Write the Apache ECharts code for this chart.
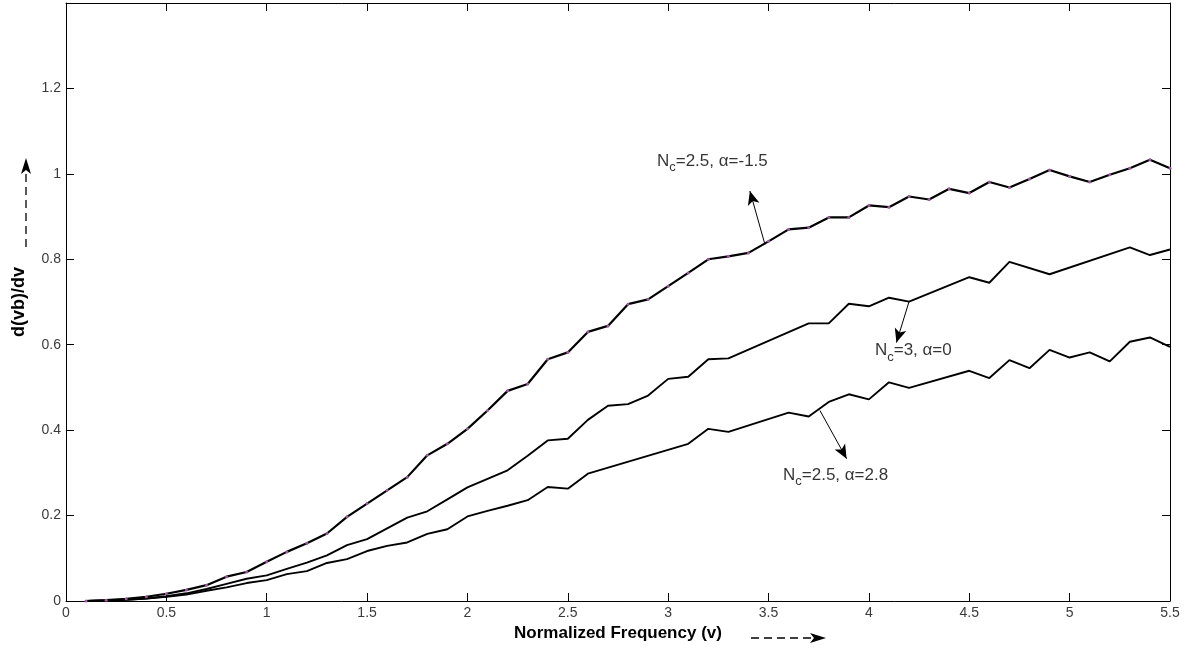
<!DOCTYPE html>
<html><head><meta charset="utf-8">
<script src="https://cdn.jsdelivr.net/npm/echarts@6/dist/echarts.min.js"></script>
<style>html,body{margin:0;padding:0;background:#fff}#c{width:1187px;height:650px}</style>
</head><body><div id="c"></div>
<script>
// Nc=2.5, alpha=-1.5 (sampled every 0.1 from 0.1 to 5.5)
const vTop = [0.1,0.2,0.3,0.4,0.5,0.6,0.7,0.8,0.9,1.0,1.1,1.2,1.3,1.4,1.5,1.6,1.7,1.8,1.9,2.0,2.1,2.2,2.3,2.4,2.5,2.6,2.7,2.8,2.9,3.0,3.1,3.2,3.3,3.4,3.5,3.6,3.7,3.8,3.9,4.0,4.1,4.2,4.3,4.4,4.5,4.6,4.7,4.8,4.9,5.0,5.1,5.2,5.3,5.4,5.5];
const yTop = [0,0.002,0.005,0.010,0.017,0.026,0.037,0.057,0.068,0.092,0.115,0.135,0.158,0.197,0.228,0.259,0.290,0.341,0.368,0.403,0.446,0.492,0.508,0.566,0.582,0.630,0.644,0.695,0.706,0.737,0.768,0.800,0.807,0.815,0.842,0.870,0.874,0.898,0.898,0.926,0.922,0.947,0.940,0.965,0.955,0.981,0.968,0.988,1.009,0.994,0.981,0.998,1.013,1.033,1.013];
// Nc=3, alpha=0
const vMid = [0.1,0.2,0.3,0.4,0.5,0.6,0.7,0.8,0.9,1.0,1.1,1.2,1.3,1.4,1.5,1.6,1.7,1.8,1.9,2.0,2.1,2.2,2.3,2.4,2.5,2.6,2.7,2.8,2.9,3.0,3.1,3.2,3.3,3.7,3.8,3.9,4.0,4.1,4.2,4.5,4.6,4.7,4.9,5.3,5.4,5.5];
const yMid = [0,0.001,0.003,0.006,0.011,0.018,0.028,0.040,0.052,0.060,0.075,0.090,0.107,0.131,0.145,0.170,0.195,0.210,0.238,0.266,0.286,0.306,0.340,0.376,0.380,0.424,0.457,0.461,0.481,0.520,0.525,0.566,0.568,0.650,0.650,0.696,0.690,0.710,0.701,0.758,0.745,0.794,0.765,0.828,0.810,0.823];
// Nc=2.5, alpha=2.8
const vBot = [0.1,0.2,0.3,0.4,0.5,0.6,0.7,0.8,0.9,1.0,1.1,1.2,1.3,1.4,1.5,1.6,1.7,1.8,1.9,2.0,2.1,2.2,2.3,2.4,2.5,2.6,3.1,3.2,3.3,3.6,3.7,3.8,3.9,4.0,4.1,4.2,4.5,4.6,4.7,4.8,4.9,5.0,5.1,5.2,5.3,5.4,5.5];
const yBot = [0,0.001,0.003,0.006,0.010,0.015,0.024,0.032,0.042,0.049,0.063,0.070,0.089,0.098,0.117,0.129,0.137,0.157,0.168,0.198,0.211,0.223,0.236,0.267,0.263,0.298,0.368,0.403,0.396,0.441,0.432,0.466,0.484,0.472,0.512,0.499,0.539,0.522,0.564,0.545,0.588,0.570,0.582,0.561,0.607,0.617,0.595];

const xTicks = {min:0, max:5.5, interval:0.5};
const yTicks = {min:0, max:1.4, interval:0.2};
const xName = 'Normalized Frequency (v)';
const yName = 'd(vb)/dv';

// annotations: label parts, label anchor (left/middle), arrow start, arrow tip
const annotations = [
  {pre:'N', sub:'c', post:'=2.5, α=-1.5', at:[2.944,1.03], from:[3.482,0.835], to:[3.407,0.96]},
  {pre:'N', sub:'c', post:'=3, α=0', at:[4.03,0.586], from:[4.2,0.701], to:[4.137,0.605]},
  {pre:'N', sub:'c', post:'=2.5, α=2.8', at:[3.572,0.294], from:[3.756,0.446], to:[3.889,0.333]}
];

const zip = (a,b) => a.map((v,i)=>[v,b[i]]);
const font = 'Liberation Sans, Arial, sans-serif';

const chart = echarts.init(document.getElementById('c'));
const axisCommon = {
  type:'value', splitLine:{show:false},
  axisLine:{show:true, onZero:false, lineStyle:{color:'#000', width:1}},
  axisTick:{show:true, inside:true, length:8, lineStyle:{color:'#000'}},
};
const option = {
  animation:false,
  backgroundColor:'#fff',
  grid:{left:66, right:17, top:3, bottom:49, containLabel:false},
  xAxis:[
    Object.assign({}, axisCommon, xTicks, {position:'bottom',
      axisLabel:{color:'#3a3a3a', fontSize:14, fontFamily:font, margin:5},
      name:xName, nameLocation:'middle', nameGap:24,
      nameTextStyle:{color:'#000', fontSize:17, fontWeight:'bold', fontFamily:font, verticalAlign:'top'}}),
    Object.assign({}, axisCommon, xTicks, {position:'top', axisLabel:{show:false}})
  ],
  yAxis:[
    Object.assign({}, axisCommon, yTicks, {position:'left',
      axisLabel:{color:'#3a3a3a', fontSize:14, fontFamily:font, margin:5,
        formatter:v => v > 1.3 ? '' : String(+v.toFixed(1))},
      name:yName, nameLocation:'middle', nameGap:38, nameRotate:90,
      nameTextStyle:{color:'#000', fontSize:18, fontWeight:'bold', fontFamily:font}}),
    Object.assign({}, axisCommon, yTicks, {position:'right', axisLabel:{show:false}})
  ],
  series:[
    {type:'line', data:zip(vTop,yTop), showSymbol:true, symbol:'circle', symbolSize:3,
     itemStyle:{color:'#9b5c9b', borderWidth:0}, lineStyle:{color:'#000', width:2.2}, z:3},
    {type:'line', data:zip(vMid,yMid), showSymbol:false, lineStyle:{color:'#000', width:1.9}},
    {type:'line', data:zip(vBot,yBot), showSymbol:false, lineStyle:{color:'#000', width:1.9}},
    {type:'scatter', symbolSize:0, data:annotations.map(a=>({value:a.at,
       label:{show:true, position:'right', distance:0,
         formatter:'{n|'+a.pre+'}{s|'+a.sub+'}{n|'+a.post+'}',
         rich:{n:{fontSize:17, fontFamily:font, color:'#000'},
               s:{fontSize:13, fontFamily:font, color:'#000', padding:[13,0,0,0]}}}})),
     silent:true,
     markLine:{silent:true, symbol:['none','arrow'], symbolSize:[9,14], animation:false,
       label:{show:false}, lineStyle:{color:'#000', width:1, type:'solid'},
       data:annotations.map(a=>[{coord:a.from},{coord:a.to}])}}
  ],
  graphic:[
    {type:'line', shape:{x1:751, y1:638, x2:816, y2:638}, style:{stroke:'#000', lineWidth:1.3, lineDash:[8,5]}},
    {type:'polygon', shape:{points:[[810,633],[826,638],[810,643],[814,638]]}, style:{fill:'#000'}},
    {type:'line', shape:{x1:26, y1:247, x2:26, y2:170}, style:{stroke:'#000', lineWidth:1.3, lineDash:[8,5]}},
    {type:'polygon', shape:{points:[[21,174],[26,158],[31,174],[26,170]]}, style:{fill:'#000'}}
  ]
};
chart.setOption(option);
</script></body></html>
